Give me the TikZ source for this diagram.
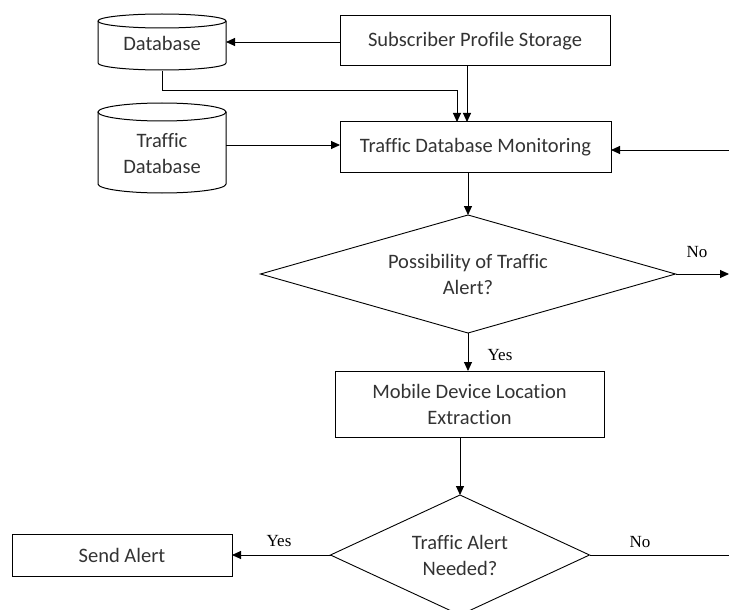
\documentclass[tikz,border=0pt]{standalone}
\usepackage{fontspec}
\setmainfont{Carlito}[Ligatures=CommonOff]
\newfontfamily\lblfont{Liberation Serif}
\usetikzlibrary{shapes.geometric,arrows.meta}
\definecolor{txt}{gray}{0.2}
\begin{document}
\begin{tikzpicture}[x=1pt,y=-1pt,
  every node/.style={font=\fontsize{20.5}{26}\selectfont, text=txt},
  boxnode/.style={draw, rectangle, line width=1pt, inner sep=0pt, outer sep=0pt, align=center},
  decnode/.style={draw, diamond, line width=0.9pt, inner sep=0pt, outer sep=0pt, align=center},
  ghost/.style={draw=none, rectangle, inner sep=0pt, outer sep=0pt, align=center},
  conn/.style={line width=0.9pt},
  arr/.style={conn, -{Triangle[length=9pt,width=8pt]}},
  lbl/.style={font=\lblfont\fontsize{17}{20}\selectfont, text=black, inner sep=0pt}
]
\useasboundingbox (0,0) rectangle (729,610);
\clip (0,0) rectangle (729,610);

% cylinders drawn directly
\draw[line width=1pt] (98,21) -- (98,63) arc[start angle=180,end angle=0,x radius=64,y radius=7] -- (226,21);
\draw[line width=1pt] (162,21) ellipse[x radius=64,y radius=7];
\draw[line width=1pt] (98,112) -- (98,184) arc[start angle=180,end angle=0,x radius=64,y radius=9] -- (226,112);
\draw[line width=1pt] (162,112) ellipse[x radius=64,y radius=9];

% nodes
\node[ghost, minimum width=128, minimum height=56] (db) at (162,43) {Database};
\node[ghost, minimum width=128, minimum height=90] (tdb) at (162,153.5) {Traffic\\Database};
\node[boxnode, minimum width=270, minimum height=50] (sps) at (475,41) {Subscriber Profile Storage};
\node[boxnode, minimum width=271, minimum height=50] (tdm) at (475.5,147) {Traffic Database Monitoring};
\node[decnode, aspect=3.5, minimum width=415, minimum height=118] (d1) at (468,274) {Possibility of Traffic\\Alert?};
\node[boxnode, minimum width=269, minimum height=66] (mdle) at (469.5,404) {Mobile Device Location\\Extraction};
\node[decnode, aspect=2.16, minimum width=259, minimum height=120] (d2) at (460,555) {Traffic Alert\\Needed?};
\node[boxnode, minimum width=220, minimum height=42] (send) at (122,555) {Send Alert};

\coordinate (j1) at (457,90);
\coordinate (rin) at (729,150);
\coordinate (rout1) at (729,274);
\coordinate (rout2) at (729,555);
\coordinate (tdbout) at ([yshift=8.5pt]tdb.east);

% connectors
\draw[arr] ([yshift=-1pt]sps.west) -- ([yshift=-1pt]sps.west -| db.east);
\draw[arr] (db.south) |- (j1) -- (j1 |- tdm.north);
\draw[arr] (sps.south -| 467,0) -- (tdm.north -| 467,0);
\draw[arr] (tdbout) -- (tdbout -| tdm.west);
\draw[arr] (rin) -- (rin -| tdm.east);
\draw[arr] (d1.north |- tdm.south) -- (d1.north);
\draw[arr] (d1.east) -- (rout1);
\draw[arr] (d1.south) -- (d1.south |- mdle.north);
\draw[arr] (d2.north |- mdle.south) -- (d2.north);
\draw[arr] (d2.west) -- (d2.west -| send.east);
\draw[conn] (d2.east) -- (rout2);

% labels
\node[lbl] (no1) at (697,252) {No};
\node[lbl] (yes1) at (500,355) {Yes};
\node[lbl] (yes2) at (279,541) {Yes};
\node[lbl] (no2) at (640,542) {No};
\end{tikzpicture}
\end{document}
